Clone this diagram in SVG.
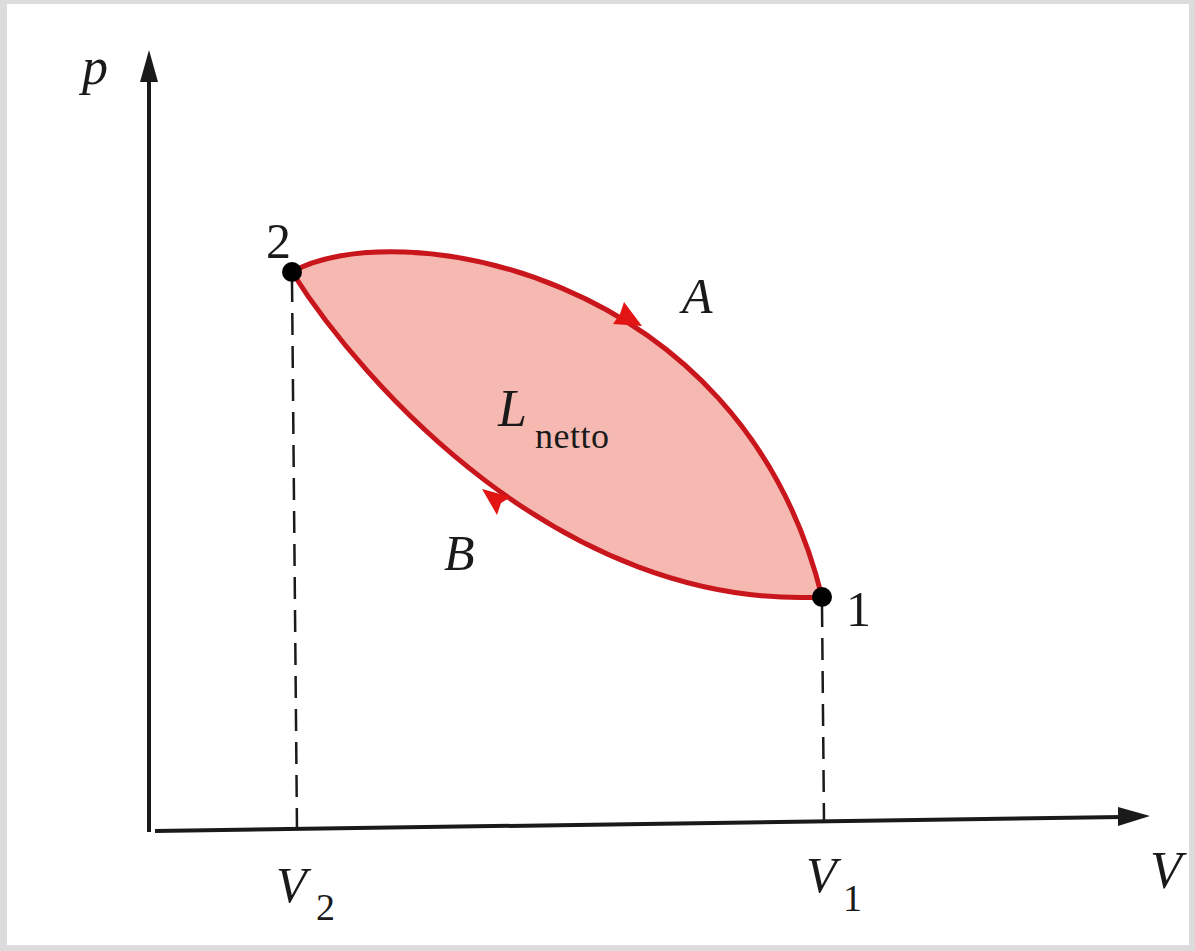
<svg xmlns="http://www.w3.org/2000/svg" width="1195" height="951" viewBox="0 0 1195 951">
<defs>
<style>
.t{font-family:"Liberation Serif","Times New Roman",serif;fill:#1a1a1a}
.i{font-style:italic}
.ax{stroke:#1a1a1a;stroke-width:4;fill:none}
.dash{stroke:#1a1a1a;stroke-width:2.5;stroke-dasharray:22,11;fill:none}
.cur{stroke:#c8161c;stroke-width:5;fill:none;stroke-linecap:round}
.ah{fill:#e21414}
</style>
</defs>
<rect x="0" y="0" width="1195" height="951" fill="#dcdcdc"/>
<rect x="7" y="4" width="1182" height="941" fill="#ffffff"/>
<g id="area">
<path d="M292,272 C390,215 740,265 822,597 C560,610 360,380 292,272 Z" fill="#f5b9b1"/>
</g>
<g id="connectors">
<path class="ax" d="M149,832 L149,78"/>
<polygon points="149,50 140,82 158,82" fill="#1a1a1a"/>
<path class="ax" d="M155,831 L1122,817"/>
<polygon points="1150,816 1118,807 1118,826" fill="#1a1a1a"/>
<path class="dash" d="M292,280 L297,830"/>
<path class="dash" d="M822,605 L824,822"/>
<path id="curveA" class="cur" d="M292,272 C390,215 740,265 822,597"/>
<path id="curveB" class="cur" d="M292,272 C360,380 560,610 822,597"/>
<path class="ah" d="M642,326 L613,324 L620,314 L624,302 Z"/>
<path class="ah" d="M482,489 L511,497 L501,503 L497,515 Z"/>
</g>
<g id="node2">
<circle cx="292" cy="272" r="10" fill="#000"/>
<text class="t" x="266" y="258" font-size="50">2</text>
</g>
<g id="node1">
<circle cx="822" cy="597" r="10" fill="#000"/>
<text class="t" x="846" y="626" font-size="50">1</text>
</g>
<g id="labels">
<text class="t i" x="82" y="84" font-size="52">p</text>
<text class="t i" x="1150" y="888" font-size="52">V</text>
<text class="t i" x="276" y="902" font-size="50">V</text>
<text class="t" x="316" y="920" font-size="38">2</text>
<text class="t i" x="806" y="892" font-size="50">V</text>
<text class="t" x="843" y="911" font-size="38">1</text>
<text class="t i" x="682" y="313" font-size="50">A</text>
<text class="t i" x="444" y="570" font-size="50">B</text>
<text class="t i" x="498" y="426" font-size="52">L</text>
<text class="t" x="535" y="448" font-size="36" textLength="74">netto</text>
</g>
</svg>
